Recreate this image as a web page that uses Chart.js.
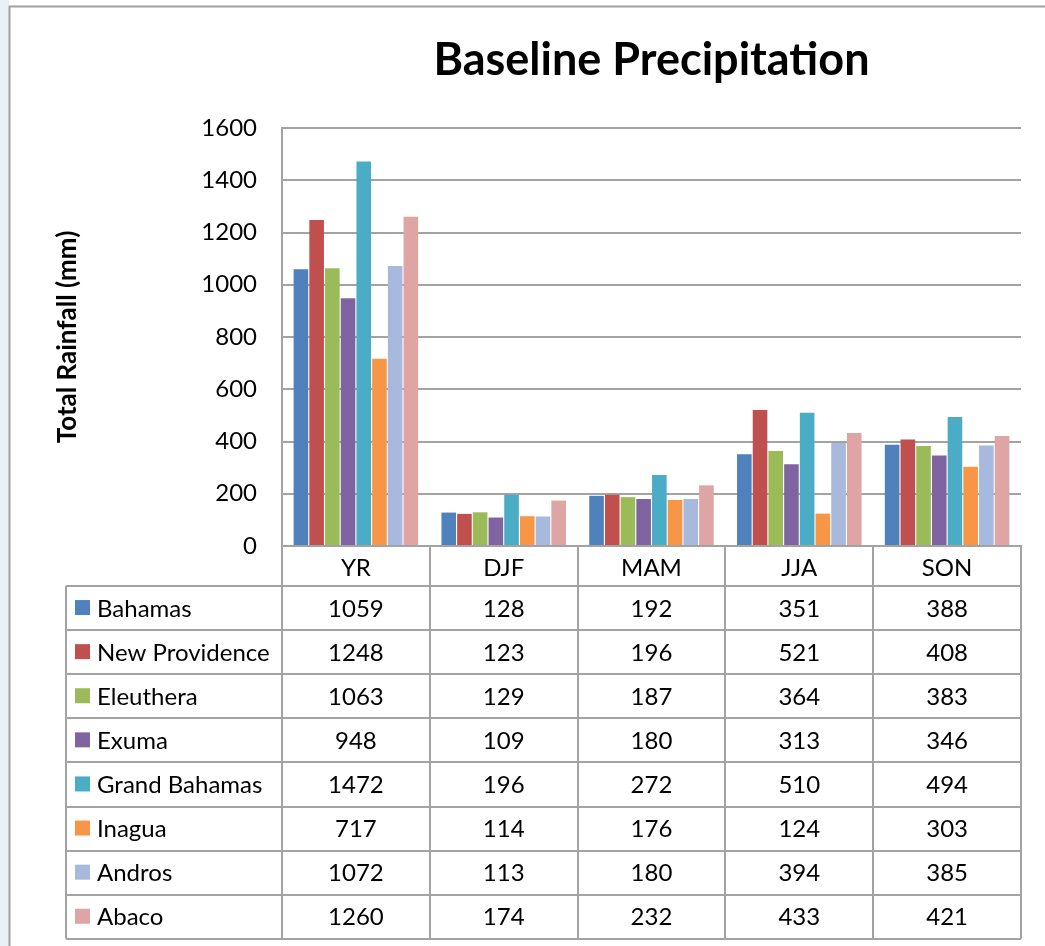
<!DOCTYPE html>
<html>
<head>
<meta charset="utf-8">
<title>Baseline Precipitation</title>
<script src="https://cdn.jsdelivr.net/npm/chart.js@4.4.1/dist/chart.umd.min.js"></script>
<style>
  html, body { margin: 0; padding: 0; background: #fff; }
  #wrap { width: 1045px; height: 946px; }
</style>
</head>
<body>
<div id="wrap"><canvas id="rainChart" width="1045" height="946"></canvas></div>
<script>
// Categories (seasons) and islands
const seasons = ['YR', 'DJF', 'MAM', 'JJA', 'SON'];
const islands = ['Bahamas', 'New Providence', 'Eleuthera', 'Exuma', 'Grand Bahamas', 'Inagua', 'Andros', 'Abaco'];

// Total rainfall (mm) per island, in order YR, DJF, MAM, JJA, SON
const bahamas       = [1059, 128, 192, 351, 388];
const newProvidence = [1248, 123, 196, 521, 408];
const eleuthera     = [1063, 129, 187, 364, 383];
const exuma         = [948, 109, 180, 313, 346];
const grandBahamas  = [1472, 196, 272, 510, 494];
const inagua        = [717, 114, 176, 124, 303];
const andros        = [1072, 113, 180, 394, 385];
const abaco         = [1260, 174, 232, 433, 421];

const yTicks = [0, 200, 400, 600, 800, 1000, 1200, 1400, 1600];

const seriesValues = [bahamas, newProvidence, eleuthera, exuma, grandBahamas, inagua, andros, abaco];
const colors = ['#4f81bd', '#c0504d', '#9bbb59', '#8064a2', '#4bacc6', '#f79646', '#a7b9dc', '#dea5a4'];

const FONT = 'Lato, Carlito, "Liberation Sans", sans-serif';
const GRID = '#a3a3a3';

// Background and outer frame
const framePlugin = {
    id: 'frame',
    beforeDraw(chart) {
        const ctx = chart.ctx;
        ctx.save();
        ctx.fillStyle = '#ffffff';
        ctx.fillRect(0, 0, chart.width, chart.height);
        ctx.fillStyle = '#eaf1f6';
        ctx.fillRect(0, 0, 9, chart.height);
        ctx.strokeStyle = '#a0a0a0';
        ctx.lineWidth = 2;
        ctx.strokeRect(9.5, 6.5, chart.width + 10, chart.height + 10);
        ctx.restore();
    }
};

// Data table with legend keys, drawn under the x axis
const tablePlugin = {
    id: 'dataTable',
    afterDraw(chart) {
        const ctx = chart.ctx;
        const x = chart.scales.x;
        const area = chart.chartArea;
        const step = x.getPixelForValue(1) - x.getPixelForValue(0);
        const headTop = area.bottom;
        const tableTop = x.bottom;
        const rowH = 44.1;
        const tableBottom = tableTop + rowH * islands.length;
        const tableLeft = 66;

        ctx.save();
        ctx.strokeStyle = GRID;
        ctx.lineWidth = 2;
        ctx.beginPath();
        // horizontal lines
        for (let r = 0; r <= islands.length; r++) {
            const y = Math.round(tableTop + r * rowH);
            ctx.moveTo(tableLeft, y);
            ctx.lineTo(area.right, y);
        }
        // vertical lines
        ctx.moveTo(tableLeft, tableTop);
        ctx.lineTo(tableLeft, tableBottom);
        for (let i = 0; i <= seasons.length; i++) {
            const xp = Math.round(x.getPixelForValue(0) - step / 2 + i * step);
            ctx.moveTo(xp, headTop);
            ctx.lineTo(xp, tableBottom);
        }
        ctx.stroke();

        ctx.font = '24px ' + FONT;
        ctx.textBaseline = 'middle';
        islands.forEach((name, r) => {
            const cy = tableTop + r * rowH + rowH / 2;
            ctx.fillStyle = colors[r];
            ctx.fillRect(tableLeft + 9, cy - 8, 15, 15);
            ctx.fillStyle = '#000';
            ctx.textAlign = 'left';
            ctx.fillText(name, tableLeft + 31, cy + 1);
            ctx.textAlign = 'center';
            seriesValues[r].forEach((v, i) => {
                ctx.fillText(String(v), x.getPixelForValue(i), cy + 1);
            });
        });
        ctx.restore();
    }
};

function setupChart() {
    const ctx = document.getElementById('rainChart').getContext('2d');
    return new Chart(ctx, {
        type: 'bar',
        data: {
            labels: seasons,
            datasets: islands.map((name, i) => ({
                label: name,
                data: seriesValues[i],
                backgroundColor: colors[i],
                borderWidth: 0,
                categoryPercentage: 0.85,
                barPercentage: 0.93
            }))
        },
        options: {
            responsive: false,
            animation: false,
            layout: { padding: { top: 33, left: 0, right: 24, bottom: 360 } },
            plugins: {
                legend: { display: false },
                tooltip: { enabled: false },
                title: {
                    display: true,
                    fullSize: false,
                    text: 'Baseline Precipitation',
                    color: '#000',
                    font: { family: FONT, size: 45, weight: 'bold', lineHeight: 1.2 },
                    padding: { top: 0, bottom: 41 }
                }
            },
            scales: {
                x: {
                    grid: { display: false, drawTicks: false },
                    border: { display: true, color: GRID, width: 2 },
                    ticks: { color: '#000', font: { family: FONT, size: 24 }, padding: 8 },
                    afterFit(scale) { scale.height = 40; }
                },
                y: {
                    min: 0,
                    max: 1600,
                    afterBuildTicks(scale) { scale.ticks = yTicks.map(v => ({ value: v })); },
                    grid: { color: GRID, lineWidth: 2, drawTicks: false },
                    border: { display: true, color: GRID, width: 2 },
                    ticks: {
                        color: '#000',
                        font: { family: FONT, size: 24 },
                        padding: 25,
                        callback: (v) => String(v)
                    },
                    title: {
                        display: true,
                        text: 'Total Rainfall (mm)',
                        color: '#000',
                        font: { family: FONT, size: 26, weight: 'bold', lineHeight: 1.2 },
                        padding: { top: 52 }
                    },
                    afterFit(scale) { scale.width = 282; }
                }
            }
        },
        plugins: [framePlugin, tablePlugin]
    });
}

setupChart();
</script>
</body>
</html>
